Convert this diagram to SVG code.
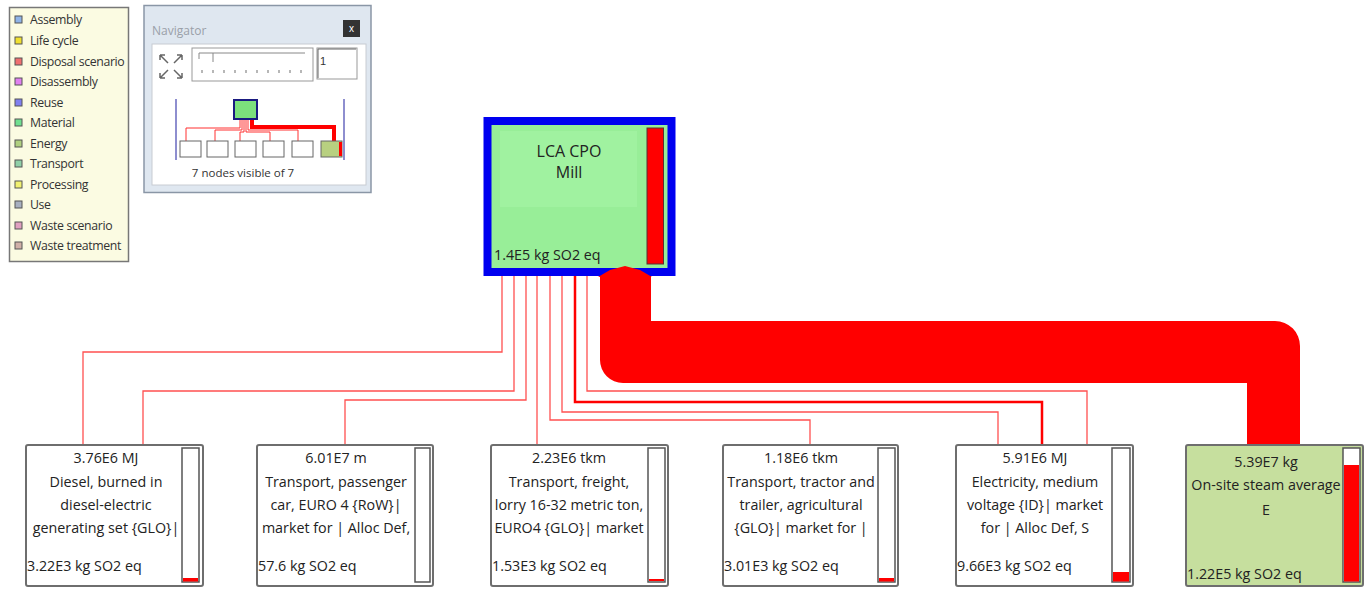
<svg xmlns="http://www.w3.org/2000/svg" width="1372" height="589" viewBox="0 0 1372 589">
<style>
.t{font-family:"Open Sans","Liberation Sans",sans-serif;fill:#222;}
.nt{font-size:14.3px;text-anchor:middle;}
.v{font-size:14.3px;}
.lg{font-family:"Open Sans","Liberation Sans",sans-serif;font-size:12.3px;fill:#333;letter-spacing:-0.35px;}
.sq{stroke:#555;stroke-width:1;}
.node{fill:#fff;stroke:#6e6e6e;stroke-width:2;}
.bar{fill:#fff;stroke:#555;stroke-width:1.5;}
.ln{fill:none;stroke:#ff5050;stroke-width:1.3;}
</style>
<rect width="1372" height="589" fill="#fff"/>

<!-- Legend -->
<g id="legend">
<rect x="9.5" y="7.5" width="119" height="254" fill="#fbfbe2" stroke="#777" stroke-width="1.5"/>
<rect class="sq" x="15" y="16" width="7" height="7" fill="#8fb4e8"/><text class="lg" x="30" y="24">Assembly</text>
<rect class="sq" x="15" y="37" width="7" height="7" fill="#f0e030"/><text class="lg" x="30" y="45">Life cycle</text>
<rect class="sq" x="15" y="58" width="7" height="7" fill="#f07070"/><text class="lg" x="30" y="66">Disposal scenario</text>
<rect class="sq" x="15" y="78" width="7" height="7" fill="#e080f0"/><text class="lg" x="30" y="86">Disassembly</text>
<rect class="sq" x="15" y="99" width="7" height="7" fill="#8080f0"/><text class="lg" x="30" y="107">Reuse</text>
<rect class="sq" x="15" y="119" width="7" height="7" fill="#70e090"/><text class="lg" x="30" y="127">Material</text>
<rect class="sq" x="15" y="140" width="7" height="7" fill="#b0d080"/><text class="lg" x="30" y="148">Energy</text>
<rect class="sq" x="15" y="160" width="7" height="7" fill="#90d0a8"/><text class="lg" x="30" y="168">Transport</text>
<rect class="sq" x="15" y="181" width="7" height="7" fill="#f0f070"/><text class="lg" x="30" y="189">Processing</text>
<rect class="sq" x="15" y="201" width="7" height="7" fill="#a8b0c0"/><text class="lg" x="30" y="209">Use</text>
<rect class="sq" x="15" y="222" width="7" height="7" fill="#e0a0c0"/><text class="lg" x="30" y="230">Waste scenario</text>
<rect class="sq" x="15" y="242" width="7" height="7" fill="#d0b0a8"/><text class="lg" x="30" y="250">Waste treatment</text>
</g>

<!-- Navigator -->
<g id="navigator">
<rect x="144" y="5.5" width="227" height="187" fill="#dfe7f0" stroke="#8a96a6" stroke-width="1.5"/>
<text x="152" y="35" font-family="'Open Sans','Liberation Sans',sans-serif" font-size="12" fill="#9aa0a8">Navigator</text>
<rect x="343" y="20" width="17" height="17" fill="#333"/>
<text x="351.5" y="32" font-family="'Liberation Sans',sans-serif" font-size="10" fill="#fff" text-anchor="middle">x</text>
<rect x="152" y="44" width="214" height="141" fill="#fff" stroke="#c8ccd2"/>
<g stroke="#666" stroke-width="1.5" fill="none">
<path d="M160 55 L168 63 M160 55 h5 M160 55 v5"/>
<path d="M182 55 L174 63 M182 55 h-5 M182 55 v5"/>
<path d="M160 78 L168 70 M160 78 h5 M160 78 v-5"/>
<path d="M182 78 L174 70 M182 78 h-5 M182 78 v-5"/>
</g>
<rect x="192" y="48" width="121" height="33" fill="#fff" stroke="#999"/>
<path d="M199 53 H305 M199 53 v6 M213 53 v9" stroke="#888" fill="none"/>
<g stroke="#888" stroke-width="1.2"><path d="M202 70 v3 M213 70 v3 M224 70 v3 M235 70 v3 M246 70 v3 M257 70 v3 M268 70 v3 M279 70 v3 M290 70 v3 M301 70 v3"/></g>
<rect x="317" y="48" width="40" height="31" fill="#fff" stroke="#999"/>
<path d="M318 49 H356 M318 49 V78" stroke="#666"/>
<text x="320" y="65" font-family="'Liberation Sans',sans-serif" font-size="11" fill="#333">1</text>
<path d="M176 99 V160 M344 99 V160" stroke="#6a6ac0" stroke-width="1.5"/>
<g fill="none" stroke="#ff3030" stroke-width="1">
<path d="M240 119 V128 H186 V141 M242 119 V130 H215 V141 M244 119 V132 H240 V141 M246 119 V132 H270 V141 M248 119 V130 H298 V141"/>
</g>
<path d="M252 119 V127 H334 V141" fill="none" stroke="#ff0000" stroke-width="4"/>
<rect x="234" y="100" width="23" height="19" fill="#7ce07c" stroke="#1a1a80" stroke-width="2"/>
<g fill="#fff" stroke="#666" stroke-width="1"><rect x="180" y="141" width="21" height="16"/><rect x="207" y="141" width="21" height="16"/><rect x="235" y="141" width="21" height="16"/><rect x="263" y="141" width="21" height="16"/><rect x="292" y="141" width="21" height="16"/></g>
<rect x="321" y="141" width="21" height="16" fill="#b8d080" stroke="#666"/>
<rect x="339" y="142" width="3" height="14" fill="#ff0000"/>
<text x="243" y="177" font-family="'Open Sans','Liberation Sans',sans-serif" font-size="11.5" fill="#333" text-anchor="middle">7 nodes visible of 7</text>
</g>

<!-- Connectors -->
<g id="connectors">
<path class="ln" d="M502 276 V352 H83 V445"/>
<path class="ln" d="M514 276 V391 H143 V445"/>
<path class="ln" d="M526 276 V400 H345 V445"/>
<path class="ln" d="M537 276 V445"/>
<path class="ln" d="M550 276 V420 H810 V445"/>
<path class="ln" d="M562 276 V412 H998 V445"/>
<path d="M575 276 V402 H1042 V445" fill="none" stroke="#ff0000" stroke-width="2.5"/>
<path class="ln" d="M587 276 V391 H1087 V445"/>
<path d="M600 274 L600 360 A23 23 0 0 0 623 383 L1247 383 L1247 445 L1300 445 L1300 346 A25 25 0 0 0 1275 321 L651 321 L651 274 Z" fill="#ff0000"/>
</g>

<!-- Main node -->
<g id="main">
<rect x="487.5" y="121" width="184" height="151" fill="#98ee98" stroke="#0000f0" stroke-width="8"/>
<rect x="500" y="131" width="137" height="76" fill="#a0f2a0"/>
<rect x="647" y="128" width="16.5" height="136" fill="#ff0000" stroke="#553333" stroke-width="1"/>
<polygon points="598,277 610,270 625,266 640,270 652,277" fill="#ff0000"/>
<text class="t" x="569" y="157" font-size="16" text-anchor="middle" font-family="'Liberation Sans',sans-serif">LCA CPO</text>
<text class="t" x="569" y="178" font-size="16" text-anchor="middle" font-family="'Liberation Sans',sans-serif">Mill</text>
<text class="t v" x="494" y="260">1.4E5 kg SO2 eq</text>
</g>

<!-- Node 1 -->
<g id="n1">
<rect class="node" x="26" y="445" width="177" height="141" rx="2"/>
<rect class="bar" x="182" y="448" width="17" height="134"/>
<rect x="183" y="578" width="15" height="3.5" fill="#ff0000"/>
<text class="t nt" x="106" y="463">3.76E6 MJ</text>
<text class="t nt" x="106" y="487">Diesel, burned in</text>
<text class="t nt" x="106" y="510">diesel-electric</text>
<text class="t nt" x="106" y="533">generating set {GLO}|</text>
<text class="t v" x="27" y="571">3.22E3 kg SO2 eq</text>
</g>

<!-- Node 2 -->
<g id="n2">
<rect class="node" x="257" y="445" width="176" height="141" rx="2"/>
<rect class="bar" x="415" y="448" width="15" height="134"/>
<text class="t nt" x="336" y="463">6.01E7 m</text>
<text class="t nt" x="336" y="487">Transport, passenger</text>
<text class="t nt" x="336" y="510">car, EURO 4 {RoW}|</text>
<text class="t nt" x="336" y="533">market for | Alloc Def,</text>
<text class="t v" x="258" y="571">57.6 kg SO2 eq</text>
</g>

<!-- Node 3 -->
<g id="n3">
<rect class="node" x="491" y="445" width="177" height="141" rx="2"/>
<rect class="bar" x="648" y="448" width="17" height="134"/>
<rect x="649" y="579" width="15" height="2" fill="#ff0000"/>
<text class="t nt" x="569" y="463">2.23E6 tkm</text>
<text class="t nt" x="569" y="487">Transport, freight,</text>
<text class="t nt" x="569" y="510">lorry 16-32 metric ton,</text>
<text class="t nt" x="569" y="533">EURO4 {GLO}| market</text>
<text class="t v" x="492" y="571">1.53E3 kg SO2 eq</text>
</g>

<!-- Node 4 -->
<g id="n4">
<rect class="node" x="723" y="445" width="175" height="141" rx="2"/>
<rect class="bar" x="878" y="448" width="17" height="134"/>
<rect x="879" y="578" width="15" height="3.5" fill="#ff0000"/>
<text class="t nt" x="801" y="463">1.18E6 tkm</text>
<text class="t nt" x="801" y="487">Transport, tractor and</text>
<text class="t nt" x="801" y="510">trailer, agricultural</text>
<text class="t nt" x="801" y="533">{GLO}| market for |</text>
<text class="t v" x="724" y="571">3.01E3 kg SO2 eq</text>
</g>

<!-- Node 5 -->
<g id="n5">
<rect class="node" x="956" y="445" width="177" height="141" rx="2"/>
<rect class="bar" x="1112" y="448" width="18" height="134"/>
<rect x="1113" y="572" width="16" height="9.5" fill="#ff0000"/>
<text class="t nt" x="1035" y="463">5.91E6 MJ</text>
<text class="t nt" x="1035" y="487">Electricity, medium</text>
<text class="t nt" x="1035" y="510">voltage {ID}| market</text>
<text class="t nt" x="1035" y="533">for | Alloc Def, S</text>
<text class="t v" x="957" y="571">9.66E3 kg SO2 eq</text>
</g>

<!-- Node 6 -->
<g id="n6">
<rect x="1186" y="445" width="177" height="141" rx="2" fill="#c6df9e" stroke="#6e6e6e" stroke-width="2"/>
<rect class="bar" x="1343" y="448" width="17" height="134"/>
<rect x="1344" y="465" width="15" height="116.5" fill="#ff0000"/>
<text class="t nt" x="1266" y="467">5.39E7 kg</text>
<text class="t nt" x="1266" y="490">On-site steam average</text>
<text class="t nt" x="1266" y="515">E</text>
<text class="t v" x="1187" y="579">1.22E5 kg SO2 eq</text>
</g>
</svg>
